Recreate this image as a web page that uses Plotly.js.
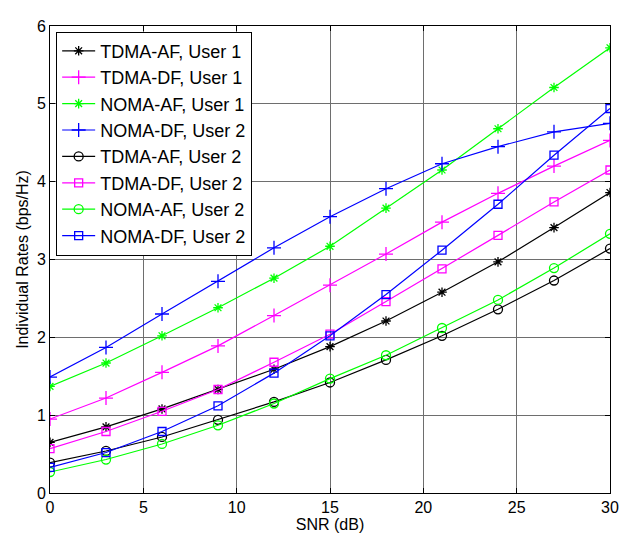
<!DOCTYPE html>
<html><head><meta charset="utf-8">
<script src="https://cdn.plot.ly/plotly-3.0.1.min.js"></script>
<style>html,body{margin:0;padding:0;background:#fff}#chart{width:634px;height:544px}</style>
</head><body><div id="chart"></div>
<script>
const snr = [0,3,6,9,12,15,18,21,24,27,30];
const tdmaAF_u1 = [0.65,0.85,1.08,1.33,1.59,1.88,2.21,2.58,2.97,3.41,3.86];
const tdmaDF_u1 = [0.95,1.22,1.55,1.89,2.28,2.67,3.07,3.48,3.85,4.20,4.53];
const nomaAF_u1 = [1.37,1.67,2.02,2.38,2.76,3.17,3.66,4.15,4.68,5.21,5.72];
const nomaDF_u1 = [1.49,1.87,2.30,2.72,3.15,3.55,3.91,4.23,4.45,4.64,4.75];
const tdmaAF_u2 = [0.39,0.54,0.72,0.94,1.17,1.42,1.71,2.02,2.36,2.73,3.14];
const tdmaDF_u2 = [0.57,0.79,1.05,1.33,1.68,2.04,2.46,2.88,3.31,3.74,4.15];
const nomaAF_u2 = [0.27,0.43,0.63,0.87,1.15,1.47,1.77,2.12,2.48,2.89,3.33];
const nomaDF_u2 = [0.33,0.52,0.79,1.12,1.54,2.02,2.55,3.12,3.71,4.34,4.94];
const names = ['TDMA-AF, User 1','TDMA-DF, User 1','NOMA-AF, User 1','NOMA-DF, User 2','TDMA-AF, User 2','TDMA-DF, User 2','NOMA-AF, User 2','NOMA-DF, User 2'];
const series = [tdmaAF_u1,tdmaDF_u1,nomaAF_u1,nomaDF_u1,tdmaAF_u2,tdmaDF_u2,nomaAF_u2,nomaDF_u2];
const colors = ['#000000','#ff00ff','#00ff00','#0000ff','#000000','#ff00ff','#00ff00','#0000ff'];
const symbols = ['asterisk-open','cross-thin-open','asterisk-open','cross-thin-open','circle-open','square-open','circle-open','square-open'];
const sizes = [8,10,8,10,9,8,9,8];
const traces = series.map((y,i)=>({
  x: snr, y: y, name: names[i], type:'scatter', mode:'lines+markers',
  line:{color:colors[i], width:1.2},
  marker:{symbol:symbols[i], size:sizes[i], color:colors[i], line:{color:colors[i], width:1.3}}
}));
const axisCommon = {showline:true, linecolor:'#000', linewidth:1, mirror:'ticks', ticks:'inside', ticklen:5, tickcolor:'#000',
  showgrid:true, gridcolor:'#6e6e6e', gridwidth:1, zeroline:false, tickfont:{family:'Liberation Sans, Arial', size:16, color:'#000'}};
const layout = {
  width:634, height:544,
  margin:{l:50, r:24, t:26, b:51},
  paper_bgcolor:'#fff', plot_bgcolor:'#fff',
  font:{family:'Liberation Sans, Arial', color:'#000'},
  xaxis:Object.assign({}, axisCommon, {range:[0,30], dtick:5, title:{text:'SNR (dB)', font:{size:16}, standoff:2}}),
  yaxis:Object.assign({}, axisCommon, {range:[0,6], dtick:1, title:{text:'Individual Rates (bps/Hz)', font:{size:16}, standoff:4}}),
  showlegend:true,
  legend:{x:0.011, y:0.988, xanchor:'left', yanchor:'top', bgcolor:'#fff', bordercolor:'#000', borderwidth:1,
    font:{family:'Liberation Sans, Arial', size:18, color:'#000'}, tracegroupgap:0, itemwidth:33}
};
Plotly.newPlot('chart', traces, layout, {displayModeBar:false, staticPlot:true});
</script></body></html>
